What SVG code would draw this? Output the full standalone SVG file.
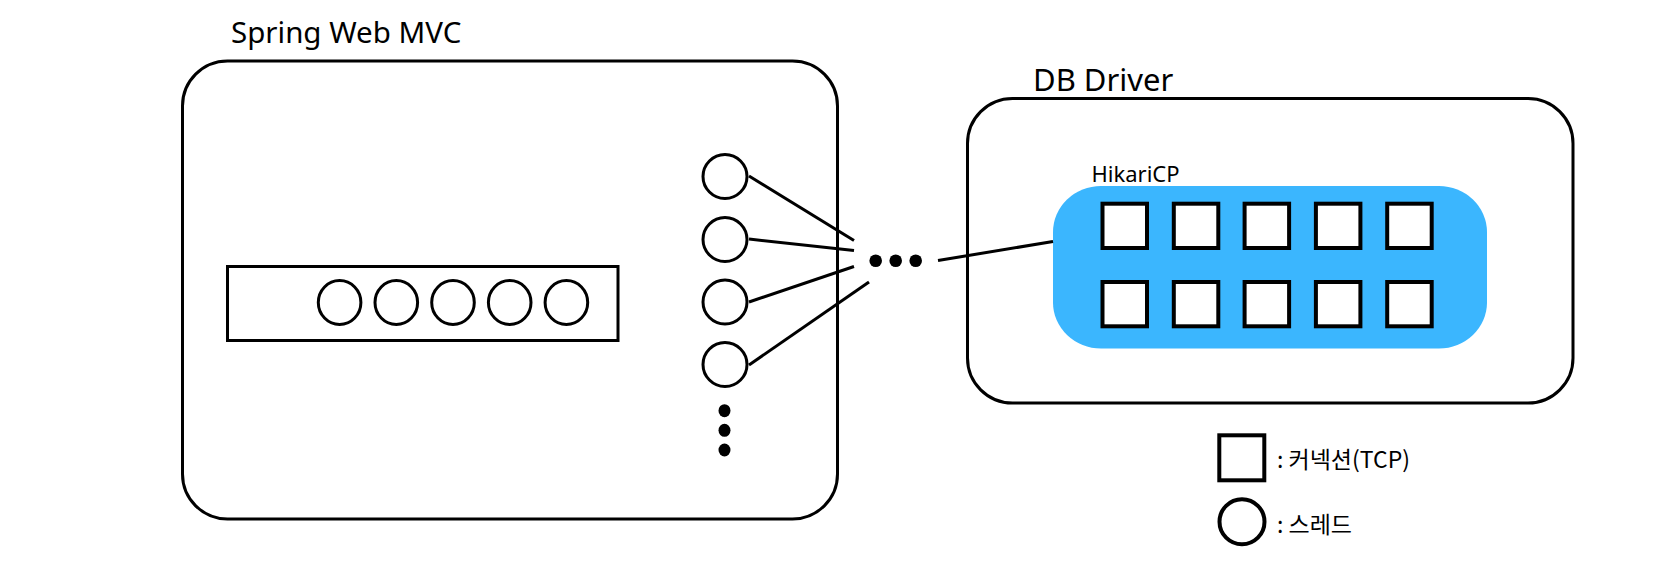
<svg xmlns="http://www.w3.org/2000/svg" width="1653" height="567" viewBox="0 0 1653 567">
  <style>
    .frame { fill: #ffffff; stroke: #000000; stroke-width: 3; }
    .thread { fill: #ffffff; stroke: #000000; stroke-width: 3; }
    .conn { fill: #ffffff; stroke: #000000; stroke-width: 4; }
    .dot { fill: #000000; }
    .link { stroke: #000000; stroke-width: 3; fill: none; }
    .lbl { font-family: "Noto Sans", "Noto Sans CJK KR", sans-serif; fill: #000000; }
    .ko { font-family: "Noto Sans CJK KR", "Noto Sans", sans-serif; fill: #000000; }
  </style>
  <rect width="1653" height="567" fill="#ffffff"/>

  <g id="spring-web-mvc">
    <rect class="frame" x="182.5" y="61" width="655" height="458" rx="45" ry="45"/>
    <text class="lbl" x="231" y="43.3" font-size="29.5">Spring Web MVC</text>
  </g>

  <g id="thread-queue">
    <rect class="frame" x="227.5" y="266.5" width="390.5" height="74"/>
    <ellipse class="thread" cx="339.6" cy="302.5" rx="21.3" ry="22"/>
    <ellipse class="thread" cx="396.3" cy="302.5" rx="21.3" ry="22"/>
    <ellipse class="thread" cx="453" cy="302.5" rx="21.3" ry="22"/>
    <ellipse class="thread" cx="509.7" cy="302.5" rx="21.3" ry="22"/>
    <ellipse class="thread" cx="566.4" cy="302.5" rx="21.3" ry="22"/>
  </g>

  <g id="threads">
    <circle class="thread" cx="725" cy="176.5" r="22"/>
    <circle class="thread" cx="725" cy="239.5" r="22"/>
    <circle class="thread" cx="725" cy="302" r="22"/>
    <circle class="thread" cx="725" cy="364.5" r="22"/>
    <ellipse class="dot" cx="724.5" cy="410.7" rx="6" ry="6.5"/>
    <ellipse class="dot" cx="724.5" cy="430.3" rx="6" ry="6.5"/>
    <ellipse class="dot" cx="724.5" cy="450" rx="6" ry="6.5"/>
  </g>

  <g id="ellipsis">
    <circle class="dot" cx="875.7" cy="260.7" r="6.3"/>
    <circle class="dot" cx="895.7" cy="260.7" r="6.3"/>
    <circle class="dot" cx="915.7" cy="260.7" r="6.3"/>
  </g>

  <g id="db-driver">
    <rect class="frame" x="967.5" y="98.5" width="605.5" height="304.5" rx="45" ry="45"/>
    <text class="lbl" x="1033" y="90.7" font-size="31">DB Driver</text>
  </g>

  <g id="hikaricp">
    <rect x="1053" y="186" width="434" height="162.5" rx="48" ry="46" fill="#3bb6fe"/>
    <text class="lbl" x="1091.5" y="181.7" font-size="22">HikariCP</text>
    <rect class="conn" x="1102.5" y="203.7" width="44.5" height="44.3"/>
    <rect class="conn" x="1173.8" y="203.7" width="44.5" height="44.3"/>
    <rect class="conn" x="1244.6" y="203.7" width="44.5" height="44.3"/>
    <rect class="conn" x="1315.9" y="203.7" width="44.5" height="44.3"/>
    <rect class="conn" x="1387.2" y="203.7" width="44.5" height="44.3"/>
    <rect class="conn" x="1102.5" y="282" width="44.5" height="44.3"/>
    <rect class="conn" x="1173.8" y="282" width="44.5" height="44.3"/>
    <rect class="conn" x="1244.6" y="282" width="44.5" height="44.3"/>
    <rect class="conn" x="1315.9" y="282" width="44.5" height="44.3"/>
    <rect class="conn" x="1387.2" y="282" width="44.5" height="44.3"/>
  </g>

  <g id="connectors">
    <line class="link" x1="749" y1="176" x2="854" y2="240.5"/>
    <line class="link" x1="749" y1="239" x2="854" y2="250.5"/>
    <line class="link" x1="749" y1="302" x2="854" y2="266.5"/>
    <line class="link" x1="749" y1="365" x2="869" y2="282"/>
    <line class="link" x1="938" y1="260.5" x2="1053" y2="241.5"/>
  </g>

  <g id="legend">
    <rect class="conn" x="1219.3" y="435.3" width="45" height="45"/>
    <text class="ko" x="1277" y="468.3" font-size="23">: 커넥션(TCP)</text>
    <circle class="conn" cx="1242" cy="521.7" r="22.5"/>
    <text class="ko" x="1277" y="533" font-size="23">: 스레드</text>
  </g>
</svg>
